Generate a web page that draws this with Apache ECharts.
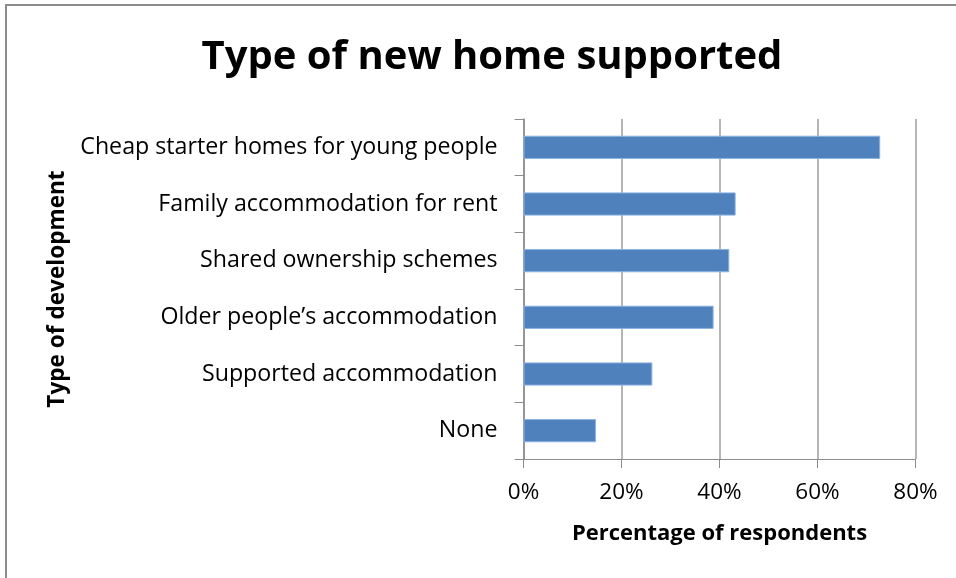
<!DOCTYPE html>
<html>
<head>
<meta charset="utf-8">
<script src="https://cdn.jsdelivr.net/npm/echarts@6/dist/echarts.min.js"></script>
<style>
html,body{margin:0;padding:0;background:#fff;overflow:hidden;}
#frame{position:absolute;left:5px;top:4px;width:1000px;height:700px;border:2px solid #8c8c8c;box-sizing:border-box;}
#chart{position:absolute;left:0;top:0;width:956px;height:578px;}
</style>
</head>
<body>
<div id="frame"></div>
<div id="chart"></div>
<script>
const categories = [
  "Cheap starter homes for young people",
  "Family accommodation for rent",
  "Shared ownership schemes",
  "Older people\u2019s accommodation",
  "Supported accommodation",
  "None"
];
const values = [72.8, 43.3, 42.0, 38.8, 26.3, 14.8];
const xTicks = { min: 0, max: 80, interval: 20 };
const titleText = "Type of new home supported";
const xName = "Percentage of respondents";
const yName = "Type of development";

const font = "'Open Sans', sans-serif";
const chart = echarts.init(document.getElementById('chart'), null, {renderer: 'canvas'});
chart.setOption({
  backgroundColor: 'transparent',
  animation: false,
  title: {
    text: titleText,
    left: 487, top: 33, textAlign: 'center',
    textStyle: { fontFamily: font, fontWeight: 'bold', fontSize: 40, color: '#000' }
  },
  grid: { left: 523.5, right: 40.5, top: 119, bottom: 119, containLabel: false },
  xAxis: {
    type: 'value', min: xTicks.min, max: xTicks.max, interval: xTicks.interval,
    name: xName, nameLocation: 'middle', nameGap: 64,
    nameTextStyle: { fontFamily: font, fontWeight: 'bold', fontSize: 22, color: '#000' },
    axisLine: { show: true, lineStyle: { color: '#8c8c8c', width: 1 } },
    axisTick: { show: true, length: 9, lineStyle: { color: '#8c8c8c' } },
    axisLabel: { formatter: '{value}%', fontFamily: font, fontSize: 22.5, color: '#000', margin: 22 },
    splitLine: { show: true, lineStyle: { color: '#9c9c9c', width: 1.5 } }
  },
  yAxis: {
    type: 'category', data: categories, inverse: true,
    name: yName, nameLocation: 'middle', nameGap: 454, nameRotate: 90,
    nameTextStyle: { fontFamily: font, fontWeight: 'bold', fontSize: 22.6, color: '#000' },
    axisLine: { show: true, lineStyle: { color: '#8c8c8c', width: 1.5 } },
    axisTick: { show: true, length: 9, alignWithLabel: false, lineStyle: { color: '#8c8c8c' } },
    axisLabel: { fontFamily: font, fontSize: 23.2, color: '#000', margin: 26 }
  },
  series: [{
    type: 'bar', data: values, barCategoryGap: '59%',
    itemStyle: { color: '#4f81bd', borderColor: '#8db3e2', borderWidth: 1 }
  }]
});
</script>
</body>
</html>
